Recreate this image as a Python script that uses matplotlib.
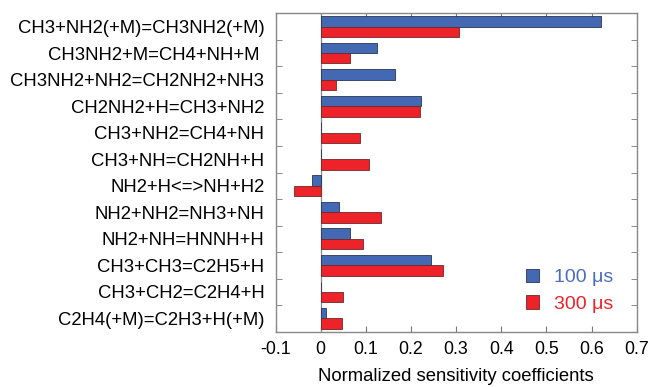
import numpy as np
import matplotlib
matplotlib.use("Agg")
import matplotlib.pyplot as plt
from matplotlib.patches import Patch

plt.rcParams['font.family'] = ['Liberation Sans', 'DejaVu Sans']

reactions = [
    "CH3+NH2(+M)=CH3NH2(+M)",
    "CH3NH2+M=CH4+NH+M ",
    "CH3NH2+NH2=CH2NH2+NH3",
    "CH2NH2+H=CH3+NH2",
    "CH3+NH2=CH4+NH",
    "CH3+NH=CH2NH+H",
    "NH2+H<=>NH+H2",
    "NH2+NH2=NH3+NH",
    "NH2+NH=HNNH+H",
    "CH3+CH3=C2H5+H",
    "CH3+CH2=C2H4+H",
    "C2H4(+M)=C2H3+H(+M)",
]
sens_100us = [0.622, 0.124, 0.164, 0.222, 0.0, 0.0, -0.020, 0.041, 0.064, 0.245, 0.0, 0.012]
sens_300us = [0.307, 0.066, 0.035, 0.221, 0.087, 0.107, -0.058, 0.133, 0.094, 0.272, 0.049, 0.047]
xticks = [-0.1, 0, 0.1, 0.2, 0.3, 0.4, 0.5, 0.6, 0.7]
xticklabels = ["-0.1", "0", "0.1", "0.2", "0.3", "0.4", "0.5", "0.6", "0.7"]

blue = "#4368b4"
red = "#ee2229"
blue_txt = "#4a6cc0"

fig = plt.figure(figsize=(6.49, 3.87), dpi=100)
ax = fig.add_axes([275.5 / 649, 1 - 331.7 / 387, (636.7 - 275.5) / 649, (331.7 - 13.3) / 387])

n = len(reactions)
y = np.arange(n)
h = 0.39
ax.barh(y - h / 2, sens_100us, height=h, color=blue, edgecolor="#2a3550", linewidth=0.6, zorder=3)
ax.barh(y + h / 2, sens_300us, height=h, color=red, edgecolor="#6a2a2a", linewidth=0.6, zorder=3)

ax.axvline(0, color="#888888", linewidth=0.9, zorder=2)

ax.set_ylim(n - 0.5, -0.5)
ax.set_xlim(-0.1, 0.7)
ax.set_yticks(y)
ax.set_yticklabels(reactions, fontsize=13.3)
ax.set_yticks(np.arange(n + 1) - 0.5, minor=True)
ax.tick_params(axis='y', which='major', length=0, pad=8)
ax.tick_params(axis='y', which='minor', length=4, direction='in', left=True, right=True, color="#777777")
ax.set_xticks(xticks)
ax.set_xticklabels(xticklabels, fontsize=12.8)
ax.tick_params(axis='x', which='major', length=4, direction='in', top=True, bottom=True, color="#777777", pad=7)
ax.set_xlabel("Normalized sensitivity coefficients", fontsize=13.3, labelpad=7)

for s in ax.spines.values():
    s.set_color("#888888")
    s.set_linewidth(1.0)

handles = [Patch(facecolor=blue, edgecolor="#2a3550", linewidth=0.6),
           Patch(facecolor=red, edgecolor="#6a2a2a", linewidth=0.6)]
leg = ax.legend(handles, ["100 \u03bcs", "300 \u03bcs"], loc="lower right",
                bbox_to_anchor=(0.935, 0.06), frameon=False, fontsize=14,
                borderpad=0, borderaxespad=0,
                handlelength=0.7, handleheight=0.7, handletextpad=0.75, labelspacing=0.45)
for t, c in zip(leg.get_texts(), [blue_txt, red]):
    t.set_color(c)

fig.savefig("out.png", dpi=100)
